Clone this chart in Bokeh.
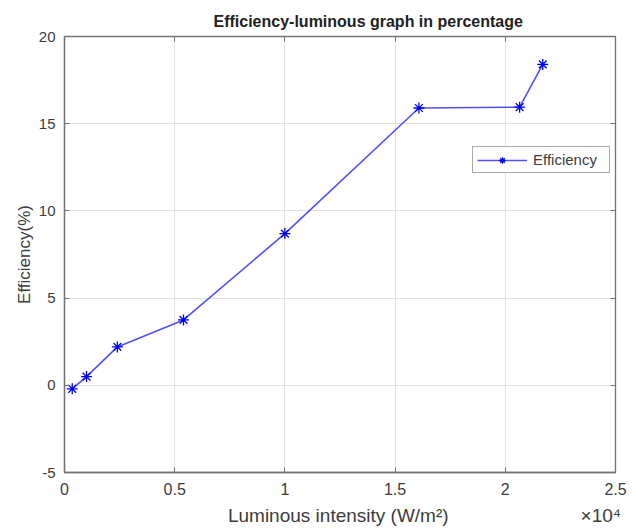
from bokeh.plotting import figure
from bokeh.models import FixedTicker, LinearAxis, Range1d, Legend, LegendItem
from bokeh.embed import file_html
from bokeh.resources import INLINE

# Data
luminous = [350, 1000, 2400, 5400, 10000, 16080, 20650, 21700]
efficiency = [-0.2, 0.5, 2.2, 3.75, 8.7, 15.9, 15.95, 18.4]
x_ticks = [0, 5000, 10000, 15000, 20000, 25000]
x_tick_labels = ["0", "0.5", "1", "1.5", "2", "2.5"]
y_ticks = [-5, 0, 5, 10, 15, 20]
y_tick_labels = ["-5", "0", "5", "10", "15", "20"]
x_label = "Luminous intensity (W/m²)"
x_multiplier = "×10⁴"

FONT = "Liberation Sans"
AX = "#737373"
TXT = "#3c3c3c"
NBSP = "\u00a0"

p = figure(width=636, height=530, output_backend="svg", toolbar_location=None,
           x_range=Range1d(0, 25000), y_range=Range1d(-5, 20),
           min_border_left=64, min_border_right=21, min_border_top=36, min_border_bottom=58,
           title="Efficiency-luminous graph in percentage")
p.title.align = "left"
p.title.offset = 149
p.title.text_font = FONT
p.title.text_font_size = "16px"
p.title.text_font_style = "bold"
p.title.text_color = "#222222"
p.title.standoff = 13

p.outline_line_color = AX
p.outline_line_width = 1.3
p.background_fill_color = "white"
p.border_fill_color = "white"

p.xaxis.ticker = FixedTicker(ticks=x_ticks)
p.xaxis.major_label_overrides = dict(zip(x_ticks, x_tick_labels))
p.yaxis.ticker = FixedTicker(ticks=y_ticks)
p.yaxis.major_label_overrides = dict(zip(y_ticks, y_tick_labels))

for ax, size in ((p.xaxis[0], "16px"), (p.yaxis[0], "15px")):
    ax.axis_line_color = AX
    ax.axis_line_width = 1.3
    ax.major_tick_line_color = AX
    ax.major_tick_in = 5
    ax.major_tick_out = 0
    ax.minor_tick_line_color = None
    ax.major_label_text_font = FONT
    ax.major_label_text_font_size = size
    ax.major_label_text_color = TXT
    ax.axis_label_text_font = FONT
    ax.axis_label_text_font_style = "normal"
    ax.axis_label_text_color = TXT

# axis label with the x10^4 multiplier at the right end of the same line
p.xaxis.axis_label = NBSP * 32 + x_label + NBSP * 25 + x_multiplier
p.xaxis.axis_label_text_font_size = "19px"
p.xaxis.major_label_standoff = 10
p.xaxis.axis_label_standoff = 7
p.yaxis.axis_label = "Efficiency(%)"
p.yaxis.axis_label_text_font_size = "17px"
p.yaxis.major_label_standoff = 9
p.yaxis.axis_label_standoff = 2

# box ticks on top/right (no labels drawn)
def box_axis(ticks):
    return LinearAxis(ticker=FixedTicker(ticks=ticks), major_label_text_font_size="0px",
                      major_label_text_color=None, major_label_standoff=0,
                      major_tick_in=5, major_tick_out=0, minor_tick_line_color=None,
                      axis_line_color=AX, major_tick_line_color=AX)

p.add_layout(box_axis(x_ticks), "above")
p.add_layout(box_axis(y_ticks), "right")

p.xgrid.ticker = FixedTicker(ticks=x_ticks)
p.ygrid.ticker = FixedTicker(ticks=y_ticks)
p.grid.grid_line_color = "#e2e2e2"
p.grid.grid_line_width = 1

ln = p.line(luminous, efficiency, line_color="#5050ff", line_width=1.6)
mk = p.scatter(luminous, efficiency, marker="asterisk", size=11, line_color="#0000ff", line_width=1.3)

legend = Legend(items=[LegendItem(label="Efficiency", renderers=[ln, mk])],
                location=(408, 299), glyph_width=50, glyph_height=16, padding=4,
                label_standoff=6, label_width=72, spacing=0, margin=0,
                border_line_color="#555555", border_line_width=1.2,
                label_text_font=FONT, label_text_font_size="15px", label_text_color=TXT,
                background_fill_color="white", background_fill_alpha=1)
p.add_layout(legend, "center")

open("out.html", "w").write(file_html(p, INLINE))
